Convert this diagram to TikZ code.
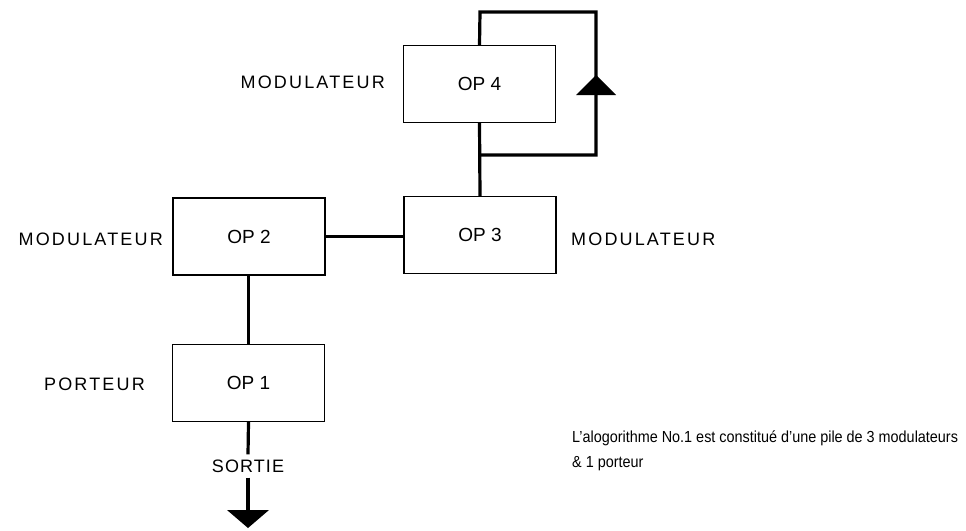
\documentclass[tikz,border=0pt]{standalone}
\usepackage{fontspec}
\setmainfont{Liberation Sans}
\usetikzlibrary{arrows.meta}
\begin{document}
\begin{tikzpicture}[x=1pt,y=-1pt,
  opbox/.style={draw,line width=1.4pt,minimum width=152pt,minimum height=77pt,inner sep=0pt,font=\fontsize{19}{22}\selectfont},
  lbl/.style={font=\fontsize{18}{21}\selectfont\addfontfeatures{LetterSpace=12},inner sep=0pt},
  conn/.style={line width=3.2pt},
  tri/.style={fill=black,draw=none}]
\useasboundingbox (0,0) rectangle (966,530);
\node[opbox] (op4) at (479.5,84) {OP 4};
\node[opbox] (op3) at (480,235) {OP 3};
\node[opbox] (op2) at (249,236.5) {OP 2};
\node[opbox] (op1) at (248.5,383) {OP 1};
\node[lbl,anchor=east] (l4) at (385,82) {MODULATEUR};
\node[lbl,anchor=east] (l2) at (163,239) {MODULATEUR};
\node[lbl,anchor=west] (l3) at (571,239) {MODULATEUR};
\node[lbl,anchor=east] (l1) at (145,384) {PORTEUR};
\node[font=\fontsize{18}{21}\selectfont\addfontfeatures{LetterSpace=6},inner sep=0pt,anchor=center] (sortie) at (248,466) {SORTIE};
\node[anchor=north west,inner sep=0pt,align=left,font=\fontsize{16}{25}\selectfont\addfontfeatures{FakeStretch=0.9}] (txt) at (572,431) {L'alogorithme No.1 est constitué d'une pile de 3 modulateurs\\\& 1 porteur};
\coordinate (fbtl) at (480,12);
\coordinate (fbtr) at (596,12);
\coordinate (fbbr) at (596,155);
\coordinate (fbj) at (480,155);
\coordinate (tip) at (596,75);
\coordinate (out) at (248,510);
\draw[conn] (op4.south) -- (op3.north);
\draw[conn] (op4.north) -- (fbtl) -- (fbtr) -- (fbbr) -- (fbj);
\fill[tri] (tip) -- ++(20,20) -- ++(-40,0) -- cycle;
\draw[conn] (op2.east) -- (op2.east -| op3.west);
\draw[conn] (op2.south -| op1.north) -- (op1.north);
\draw[conn] (op1.south) -- ([yshift=5pt]sortie.north);
\draw[conn] ([yshift=-5pt]sortie.south) -- (out);
\fill[tri] (out) -- ++(21,0) -- ++(-21,18) -- ++(-21,-18) -- cycle;
\end{tikzpicture}
\end{document}
